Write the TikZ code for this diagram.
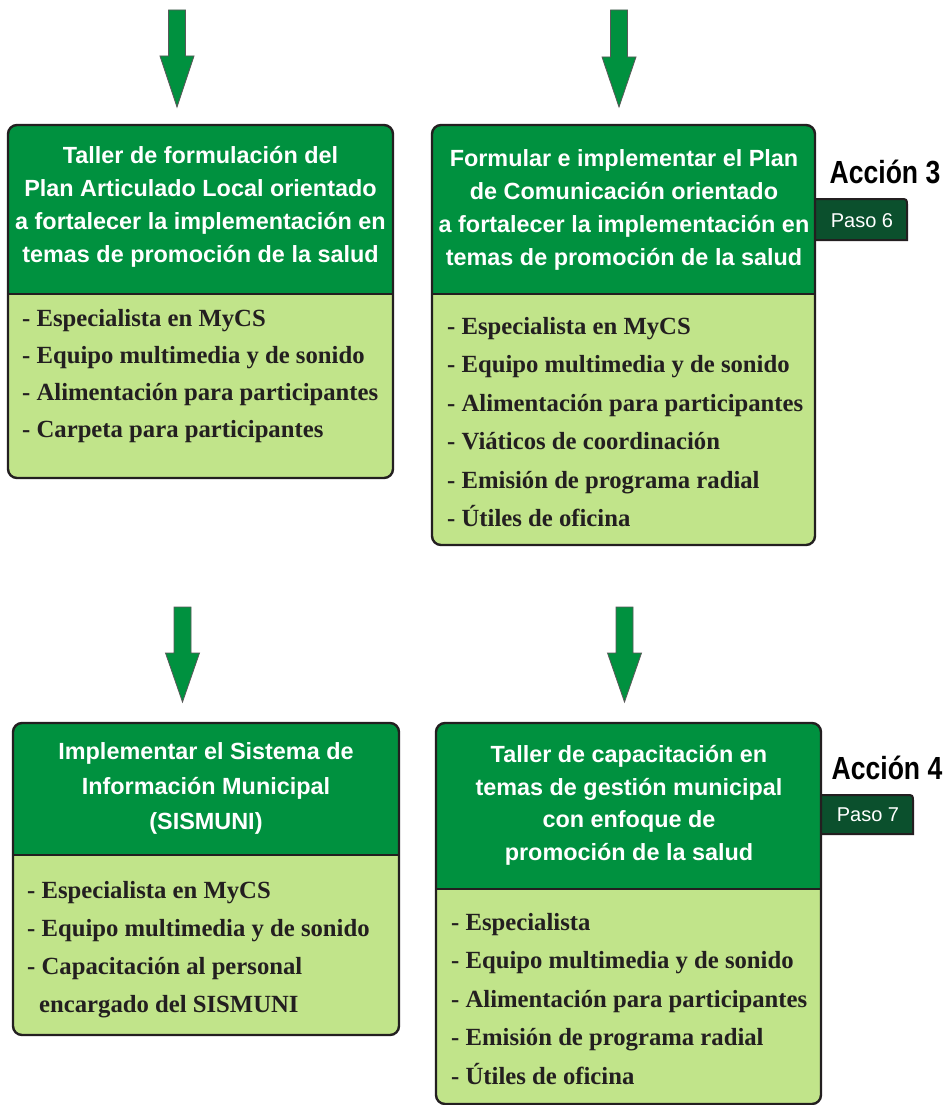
\documentclass[tikz,border=0pt]{standalone}
\usepackage{fontspec}
\usepackage{graphicx}
\setmainfont{Liberation Serif}
\setsansfont{Liberation Sans}
\definecolor{hdr}{RGB}{0,145,63}
\definecolor{bdy}{RGB}{193,228,138}
\definecolor{tabc}{RGB}{11,80,45}
\definecolor{edge}{RGB}{35,31,32}
\tikzset{
  hdrtext/.style={text=white, font=\sffamily\bfseries\fontsize{23.4}{33}\selectfont, align=center, inner sep=0},
  bodytext/.style={text=edge, font=\bfseries\fontsize{24.7}{38}\selectfont, align=left, inner sep=0, anchor=west},
  frame/.style={draw=edge, line width=2.4, rounded corners=9},
  sepline/.style={draw=edge, line width=2.4},
  greenarrow/.style={fill=hdr, draw=black!65, line width=0.8},
  tabshape/.style={fill=tabc, draw=edge, line width=2},
  tabtext/.style={text=white, font=\sffamily\fontsize{20}{24}\selectfont, inner sep=0},
  acctext/.style={text=black, font=\sffamily\bfseries\fontsize{32}{36}\selectfont, inner sep=0}
}
\newcommand{\grarrow}[4]{\filldraw[greenarrow] (#1-8.5,#2) -- (#1+8.5,#2) -- (#1+8.5,#3) -- (#1+17,#3) -- (#1,#4) -- (#1-17,#3) -- (#1-8.5,#3) -- cycle;}
% x1, ytop, x2, ysep, ybottom
\newcommand{\actbox}[5]{%
  \fill[bdy, rounded corners=9] (#1,#2) rectangle (#3,#5);
  \fill[hdr, rounded corners=9] (#1,#2) rectangle (#3,#4);
  \fill[hdr] (#1,#4-12) rectangle (#3,#4);
  \draw[frame] (#1,#2) rectangle (#3,#5);
  \draw[sepline] (#1,#4) -- (#3,#4);
}
\newcommand{\tabat}[4]{% x1, ytop, x2, ybottom
  \path[tabshape] (#1,#2) -- (#3-7,#2) .. controls (#3,#2) .. (#3,#2+7) -- (#3,#4) -- (#1,#4) -- cycle;
}
\begin{document}
\begin{tikzpicture}[x=1pt,y=-1pt]
\useasboundingbox[fill=white] (0,0) rectangle (946,1105);

% arrows
\grarrow{177}{10}{56}{107}
\grarrow{619}{10}{57}{107}
\grarrow{182.5}{607}{653}{702}
\grarrow{624.5}{607}{653}{702}

% tabs (behind boxes)
\tabat{808}{199}{907}{240}
\tabat{814}{795}{913}{834}

% boxes
\actbox{8}{125}{393}{294}{478}
\actbox{432}{125}{815}{294}{545}
\actbox{13}{723}{399}{855}{1035}
\actbox{436}{723}{821}{889}{1104}

% header texts
\node[hdrtext] (h1) at (200.5,206.5) {Taller de formulación del\\Plan Articulado Local orientado\\a fortalecer la implementación en\\temas de promoción de la salud};
\node[hdrtext] (h2) at (624,210) {Formular e implementar el Plan\\de Comunicación orientado\\a fortalecer la implementación en\\temas de promoción de la salud};
\node[hdrtext, font=\sffamily\bfseries\fontsize{23.4}{35}\selectfont] (h3) at (206,788) {Implementar el Sistema de\\Información Municipal\\(SISMUNI)};
\node[hdrtext, font=\sffamily\bfseries\fontsize{23.4}{32.5}\selectfont] (h4) at (629,805.5) {Taller de capacitación en\\temas de gestión municipal\\con enfoque de\\promoción de la salud};

% body texts
\node[bodytext, font=\bfseries\fontsize{24.7}{37}\selectfont] (b1) at (22,376.5) {- Especialista en MyCS\\- Equipo multimedia y de sonido\\- Alimentación para participantes\\- Carpeta para participantes};
\node[bodytext, font=\bfseries\fontsize{24.7}{38.4}\selectfont] (b2) at (447,422) {- Especialista en MyCS\\- Equipo multimedia y de sonido\\- Alimentación para participantes\\- Viáticos de coordinación\\- Emisión de programa radial\\- Útiles de oficina};
\node[bodytext] (b3) at (27,950) {- Especialista en MyCS\\- Equipo multimedia y de sonido\\- Capacitación al personal\\\hspace*{12pt}encargado del SISMUNI};
\node[bodytext, font=\bfseries\fontsize{24.7}{38.5}\selectfont] (b4) at (451,999) {- Especialista\\- Equipo multimedia y de sonido\\- Alimentación para participantes\\- Emisión de programa radial\\- Útiles de oficina};

% action labels
\node[acctext] (a3) at (885,172) {\scalebox{0.83}[1]{Acción 3}};
\node[acctext] (a4) at (887,768) {\scalebox{0.83}[1]{Acción 4}};
\node[tabtext] (p6) at (862,221) {Paso 6};
\node[tabtext] (p7) at (868,815) {Paso 7};
\end{tikzpicture}
\end{document}
